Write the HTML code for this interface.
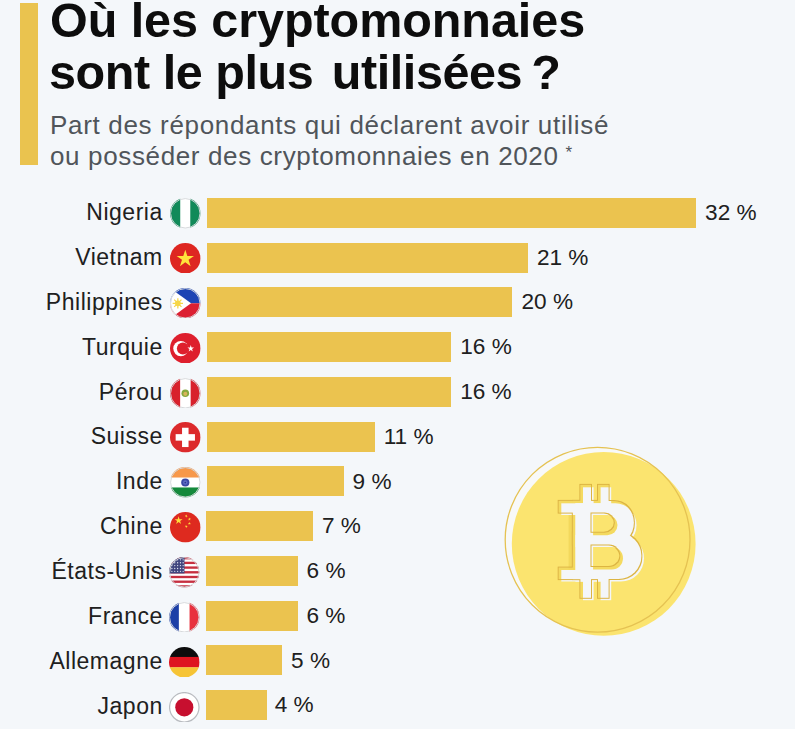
<!DOCTYPE html>
<html lang="fr">
<head>
<meta charset="utf-8">
<title>Où les cryptomonnaies sont le plus utilisées ?</title>
<style>
html,body{margin:0;padding:0;}
body{width:800px;height:729px;overflow:hidden;background:#ffffff;font-family:"Liberation Sans",sans-serif;}
#page{position:absolute;left:0;top:0;width:795px;height:729px;background:#f4f7fa;overflow:hidden;}
#accent{position:absolute;left:20.2px;top:3px;width:18.3px;height:162.4px;background:#eac34f;}
.t{position:absolute;white-space:nowrap;margin:0;}
#title{margin:0;font-weight:bold;font-size:48.5px;line-height:50px;color:#0d0d0d;}
#subtitle{margin:0;font-size:26px;line-height:30px;color:#50555a;}
.bar{position:absolute;left:207.1px;height:29.9px;background:#ebc34f;}
.lbl{position:absolute;left:0;width:162.8px;text-align:right;font-size:23px;line-height:30px;letter-spacing:0.52px;color:#202020;white-space:nowrap;}
.val{position:absolute;font-size:22.6px;line-height:30px;color:#202020;white-space:nowrap;}
.flag{position:absolute;display:block;}
#coin{position:absolute;display:block;}
</style>
</head>
<body>
<div id="page">
<div id="accent"></div>
<h1 id="title"><span class="t" id="h1a" style="left:50px;top:-4.81px;letter-spacing:-0.06px;">Où les cryptomonnaies</span>
<span class="t" id="h1b" style="left:49px;top:46.69px;letter-spacing:-0.43px;">sont le plus <span style="margin-left:5.5px">utilisées</span><span style="margin-left:-4px"> ?</span></span></h1>
<p id="subtitle"><span class="t" id="s1" style="left:50px;top:109.74px;letter-spacing:0.67px;">Part des répondants qui déclarent avoir utilisé</span>
<span class="t" id="s2" style="left:50px;top:140.99px;letter-spacing:0.64px;">ou posséder des cryptomonnaies en 2020<span id="ast" style="font-size:17px;letter-spacing:0;position:relative;top:-7px;margin-left:7px;">*</span></span></p>
<div class="lbl" id="l0" style="top:197.13px;">Nigeria</div><svg class="flag" style="top:198.0px;left:170.2px;width:30.6px;height:30.6px" viewBox="0 0 32 32"><clipPath id="fc0"><circle cx="16" cy="16" r="16"/></clipPath><g clip-path="url(#fc0)"><rect width="32" height="32" fill="#fff"/><rect width="10.7" height="32" fill="#118a59"/><rect x="21.2" width="10.8" height="32" fill="#118a59"/></g><circle cx="16" cy="16" r="15.4" fill="none" stroke="#d4d7da" stroke-width="1"/></svg><div class="bar" id="b0" style="top:197.85px;left:207.1px;width:489.0px;"></div><div class="val" id="v0" style="top:197.97px;left:705.1px;">32&nbsp;%</div>
<div class="lbl" id="l1" style="top:242.00px;">Vietnam</div><svg class="flag" style="top:242.9px;left:170.2px;width:30.6px;height:30.6px" viewBox="0 0 32 32"><clipPath id="fc1"><circle cx="16" cy="16" r="16"/></clipPath><g clip-path="url(#fc1)"><rect width="32" height="32" fill="#de2621"/><polygon points="16.00,7.00 18.13,13.56 25.04,13.56 19.45,17.62 21.58,24.19 16.00,20.13 10.42,24.19 12.55,17.62 6.96,13.56 13.87,13.56" fill="#ffe43c"/></g></svg><div class="bar" id="b1" style="top:242.61px;left:207.0px;width:320.9px;"></div><div class="val" id="v1" style="top:242.72px;left:536.9px;">21&nbsp;%</div>
<div class="lbl" id="l2" style="top:286.87px;">Philippines</div><svg class="flag" style="top:287.7px;left:170.2px;width:30.6px;height:30.6px" viewBox="0 0 32 32"><clipPath id="fc2"><circle cx="16" cy="16" r="16"/></clipPath><g clip-path="url(#fc2)"><rect width="32" height="16" fill="#1d44b4"/><rect y="16" width="32" height="16" fill="#dc2032"/><polygon points="0,0 22,16 0,32" fill="#fff"/><circle cx="8.2" cy="16" r="3" fill="#f6d649"/><g stroke="#f6d649" stroke-width="1.3"><line x1="2.8" y1="16" x2="13.6" y2="16"/><line x1="8.2" y1="10.6" x2="8.2" y2="21.4"/><line x1="4.4" y1="12.2" x2="12" y2="19.8"/><line x1="4.4" y1="19.8" x2="12" y2="12.2"/></g></g><circle cx="16" cy="16" r="15.4" fill="none" stroke="#d4d7da" stroke-width="1"/></svg><div class="bar" id="b2" style="top:287.36px;left:206.9px;width:305.6px;"></div><div class="val" id="v2" style="top:287.48px;left:521.5px;">20&nbsp;%</div>
<div class="lbl" id="l3" style="top:331.74px;">Turquie</div><svg class="flag" style="top:332.6px;left:170.2px;width:30.6px;height:30.6px" viewBox="0 0 32 32"><clipPath id="fc3"><circle cx="16" cy="16" r="16"/></clipPath><g clip-path="url(#fc3)"><rect width="32" height="32" fill="#de1f2d"/><circle cx="11.3" cy="16.3" r="7.9" fill="#fff"/><circle cx="13.5" cy="16.3" r="6.3" fill="#de1f2d"/><polygon points="25.22,15.16 23.04,16.74 23.87,19.29 21.70,17.71 19.53,19.29 20.36,16.74 18.18,15.16 20.87,15.16 21.70,12.60 22.53,15.16" fill="#fff"/></g></svg><div class="bar" id="b3" style="top:332.12px;left:206.8px;width:244.5px;"></div><div class="val" id="v3" style="top:332.23px;left:460.3px;">16&nbsp;%</div>
<div class="lbl" id="l4" style="top:376.61px;">Pérou</div><svg class="flag" style="top:377.5px;left:170.2px;width:30.6px;height:30.6px" viewBox="0 0 32 32"><clipPath id="fc4"><circle cx="16" cy="16" r="16"/></clipPath><g clip-path="url(#fc4)"><rect width="32" height="32" fill="#fff"/><rect width="10.6" height="32" fill="#d8212c"/><rect x="21.6" width="10.4" height="32" fill="#d8212c"/><circle cx="16" cy="16" r="4" fill="#86a83e"/><circle cx="16" cy="16.6" r="2.1" fill="#d8b45a"/></g><circle cx="16" cy="16" r="15.4" fill="none" stroke="#d4d7da" stroke-width="1"/></svg><div class="bar" id="b4" style="top:376.87px;left:206.7px;width:244.5px;"></div><div class="val" id="v4" style="top:376.99px;left:460.2px;">16&nbsp;%</div>
<div class="lbl" id="l5" style="top:421.48px;">Suisse</div><svg class="flag" style="top:422.3px;left:170.2px;width:30.6px;height:30.6px" viewBox="0 0 32 32"><clipPath id="fc5"><circle cx="16" cy="16" r="16"/></clipPath><g clip-path="url(#fc5)"><rect width="32" height="32" fill="#dc2a2c"/><rect x="12.6" y="6" width="6.8" height="20.2" fill="#fff"/><rect x="5.9" y="12.7" width="20.2" height="6.8" fill="#fff"/></g></svg><div class="bar" id="b5" style="top:421.63px;left:206.6px;width:168.1px;"></div><div class="val" id="v5" style="top:421.74px;left:383.7px;">11&nbsp;%</div>
<div class="lbl" id="l6" style="top:466.35px;">Inde</div><svg class="flag" style="top:467.2px;left:170.2px;width:30.6px;height:30.6px" viewBox="0 0 32 32"><clipPath id="fc6"><circle cx="16" cy="16" r="16"/></clipPath><g clip-path="url(#fc6)"><rect width="32" height="32" fill="#fff"/><rect width="32" height="11" fill="#f7984a"/><rect y="21.4" width="32" height="10.6" fill="#14893b"/><circle cx="16" cy="16.2" r="4.3" fill="#3b48a4"/><circle cx="16" cy="16.2" r="2.3" fill="#5f6cc4"/><circle cx="16" cy="16.2" r="0.9" fill="#2b388f"/></g><circle cx="16" cy="16" r="15.4" fill="none" stroke="#d4d7da" stroke-width="1"/></svg><div class="bar" id="b6" style="top:466.38px;left:206.5px;width:137.5px;"></div><div class="val" id="v6" style="top:466.50px;left:352.6px;">9&nbsp;%</div>
<div class="lbl" id="l7" style="top:511.22px;">Chine</div><svg class="flag" style="top:512.1px;left:170.2px;width:30.6px;height:30.6px" viewBox="0 0 32 32"><clipPath id="fc7"><circle cx="16" cy="16" r="16"/></clipPath><g clip-path="url(#fc7)"><rect width="32" height="32" fill="#de2a1f"/><polygon points="9.00,4.50 9.99,7.54 13.18,7.54 10.60,9.42 11.59,12.46 9.00,10.58 6.41,12.46 7.40,9.42 4.82,7.54 8.01,7.54" fill="#ffdc3c"/><polygon points="17.85,2.73 17.59,3.94 18.66,4.55 17.43,4.68 17.18,5.89 16.68,4.76 15.45,4.89 16.36,4.06 15.86,2.94 16.93,3.55" fill="#ffdc3c"/><polygon points="21.77,6.65 20.95,7.57 21.56,8.64 20.44,8.14 19.61,9.05 19.74,7.82 18.61,7.32 19.82,7.07 19.95,5.84 20.56,6.91" fill="#ffdc3c"/><polygon points="20.30,10.30 20.68,11.47 21.92,11.47 20.92,12.20 21.30,13.38 20.30,12.65 19.30,13.38 19.68,12.20 18.68,11.47 19.92,11.47" fill="#ffdc3c"/><polygon points="17.85,13.73 17.59,14.94 18.66,15.55 17.43,15.68 17.18,16.89 16.68,15.76 15.45,15.89 16.36,15.06 15.86,13.94 16.93,14.55" fill="#ffdc3c"/></g></svg><div class="bar" id="b7" style="top:511.14px;left:206.4px;width:107.0px;"></div><div class="val" id="v7" style="top:511.25px;left:322.0px;">7&nbsp;%</div>
<div class="lbl" id="l8" style="top:556.09px;">États-Unis</div><svg class="flag" style="top:557.0px;left:169.3px;width:30.6px;height:30.6px" viewBox="0 0 32 32"><clipPath id="fc8"><circle cx="16" cy="16" r="16"/></clipPath><g clip-path="url(#fc8)"><rect width="32" height="32" fill="#fff"/><rect y="0.00" width="32" height="2.46" fill="#c62f40"/><rect y="4.92" width="32" height="2.46" fill="#c62f40"/><rect y="9.85" width="32" height="2.46" fill="#c62f40"/><rect y="14.77" width="32" height="2.46" fill="#c62f40"/><rect y="19.69" width="32" height="2.46" fill="#c62f40"/><rect y="24.62" width="32" height="2.46" fill="#c62f40"/><rect y="29.54" width="32" height="2.46" fill="#c62f40"/><rect width="16.2" height="17.2" fill="#41467f"/><circle cx="3.0" cy="3.0" r="0.7" fill="#dfe2f0"/><circle cx="6.0" cy="3.0" r="0.7" fill="#dfe2f0"/><circle cx="9.0" cy="3.0" r="0.7" fill="#dfe2f0"/><circle cx="12.0" cy="3.0" r="0.7" fill="#dfe2f0"/><circle cx="14.8" cy="3.0" r="0.7" fill="#dfe2f0"/><circle cx="3.0" cy="6.0" r="0.7" fill="#dfe2f0"/><circle cx="6.0" cy="6.0" r="0.7" fill="#dfe2f0"/><circle cx="9.0" cy="6.0" r="0.7" fill="#dfe2f0"/><circle cx="12.0" cy="6.0" r="0.7" fill="#dfe2f0"/><circle cx="14.8" cy="6.0" r="0.7" fill="#dfe2f0"/><circle cx="3.0" cy="9.0" r="0.7" fill="#dfe2f0"/><circle cx="6.0" cy="9.0" r="0.7" fill="#dfe2f0"/><circle cx="9.0" cy="9.0" r="0.7" fill="#dfe2f0"/><circle cx="12.0" cy="9.0" r="0.7" fill="#dfe2f0"/><circle cx="14.8" cy="9.0" r="0.7" fill="#dfe2f0"/><circle cx="3.0" cy="12.0" r="0.7" fill="#dfe2f0"/><circle cx="6.0" cy="12.0" r="0.7" fill="#dfe2f0"/><circle cx="9.0" cy="12.0" r="0.7" fill="#dfe2f0"/><circle cx="12.0" cy="12.0" r="0.7" fill="#dfe2f0"/><circle cx="14.8" cy="12.0" r="0.7" fill="#dfe2f0"/><circle cx="3.0" cy="15.0" r="0.7" fill="#dfe2f0"/><circle cx="6.0" cy="15.0" r="0.7" fill="#dfe2f0"/><circle cx="9.0" cy="15.0" r="0.7" fill="#dfe2f0"/><circle cx="12.0" cy="15.0" r="0.7" fill="#dfe2f0"/><circle cx="14.8" cy="15.0" r="0.7" fill="#dfe2f0"/></g><circle cx="16" cy="16" r="15.4" fill="none" stroke="#d4d7da" stroke-width="1"/></svg><div class="bar" id="b8" style="top:555.89px;left:206.3px;width:91.7px;"></div><div class="val" id="v8" style="top:556.01px;left:306.6px;">6&nbsp;%</div>
<div class="lbl" id="l9" style="top:600.96px;">France</div><svg class="flag" style="top:601.8px;left:169.3px;width:30.6px;height:30.6px" viewBox="0 0 32 32"><clipPath id="fc9"><circle cx="16" cy="16" r="16"/></clipPath><g clip-path="url(#fc9)"><rect width="32" height="32" fill="#fff"/><rect width="10.3" height="32" fill="#1c3fa7"/><rect x="21.5" width="10.5" height="32" fill="#e8313e"/></g><circle cx="16" cy="16" r="15.4" fill="none" stroke="#d4d7da" stroke-width="1"/></svg><div class="bar" id="b9" style="top:600.64px;left:206.2px;width:91.7px;"></div><div class="val" id="v9" style="top:600.76px;left:306.5px;">6&nbsp;%</div>
<div class="lbl" id="l10" style="top:645.83px;">Allemagne</div><svg class="flag" style="top:646.7px;left:169.3px;width:30.6px;height:30.6px" viewBox="0 0 32 32"><clipPath id="fc10"><circle cx="16" cy="16" r="16"/></clipPath><g clip-path="url(#fc10)"><rect width="32" height="11" fill="#0c0c0c"/><rect y="10.4" width="32" height="11" fill="#de1420"/><rect y="21.2" width="32" height="10.8" fill="#f6c435"/></g></svg><div class="bar" id="b10" style="top:645.40px;left:206.1px;width:76.4px;"></div><div class="val" id="v10" style="top:645.52px;left:291.1px;">5&nbsp;%</div>
<div class="lbl" id="l11" style="top:690.70px;">Japon</div><svg class="flag" style="top:691.6px;left:169.3px;width:30.6px;height:30.6px" viewBox="0 0 32 32"><clipPath id="fc11"><circle cx="16" cy="16" r="16"/></clipPath><g clip-path="url(#fc11)"><rect width="32" height="32" fill="#fff"/><circle cx="16" cy="16" r="9.5" fill="#c70f2f"/></g><circle cx="16" cy="16" r="15.4" fill="none" stroke="#b9bcc1" stroke-width="1.3"/></svg><div class="bar" id="b11" style="top:690.15px;left:206.0px;width:61.1px;"></div><div class="val" id="v11" style="top:690.27px;left:274.7px;">4&nbsp;%</div>
<svg id="coin" style="left:495px;top:438px;width:212px;height:208px" viewBox="495 438 212 208"><defs><clipPath id="cpB"><rect x="575.5" y="480" width="100" height="130"/></clipPath><mask id="mB" maskUnits="userSpaceOnUse" x="540" y="470" width="130" height="140"><rect x="540" y="470" width="130" height="140" fill="#fff"/><rect x="570" y="515" width="47.5" height="20.2" rx="10.1" fill="#000"/><rect x="570" y="547" width="53" height="22.5" rx="11.2" fill="#000"/><rect x="540" y="470" width="53.1" height="140" fill="#fff"/></mask><filter id="fO" x="-10%" y="-10%" width="120%" height="120%"><feMorphology in="SourceAlpha" operator="dilate" radius="1" result="d"/><feComposite in="d" in2="SourceAlpha" operator="out" result="ring"/><feFlood flood-color="#dcb443" result="c"/><feComposite in="c" in2="ring" operator="in"/></filter></defs><circle cx="597.6" cy="539.7" r="92.4" fill="#f8f9f8"/><circle cx="603.7" cy="543.9" r="91.9" fill="#fbe46f"/><circle cx="597.6" cy="539.7" r="92.4" fill="none" stroke="#e5c252" stroke-width="1.3"/><g transform="translate(-2.6,-2.4)" fill="#f4da60"><g mask="url(#mB)"><rect x="583" y="487.3" width="10.6" height="18"/><rect x="600.6" y="487.3" width="10.6" height="18"/><rect x="583" y="579" width="10.6" height="21.2"/><rect x="600.6" y="579" width="10.6" height="21.2"/><rect x="561.3" y="503.3" width="40" height="11.7"/><rect x="561.3" y="570" width="40" height="11.5"/><rect x="575.5" y="503.3" width="17.6" height="78.2"/><g clip-path="url(#cpB)"><rect x="540" y="503.3" width="96.5" height="43.7" rx="21" ry="21.8"/><rect x="540" y="535" width="104" height="46.5" rx="23" ry="23.2"/></g></g></g><rect x="568.6" y="513" width="8" height="58" fill="#f3d85c"/><g fill="#f4f6f9"><g mask="url(#mB)"><rect x="583" y="487.3" width="10.6" height="18"/><rect x="600.6" y="487.3" width="10.6" height="18"/><rect x="583" y="579" width="10.6" height="21.2"/><rect x="600.6" y="579" width="10.6" height="21.2"/><rect x="561.3" y="503.3" width="40" height="11.7"/><rect x="561.3" y="570" width="40" height="11.5"/><rect x="575.5" y="503.3" width="17.6" height="78.2"/><g clip-path="url(#cpB)"><rect x="540" y="503.3" width="96.5" height="43.7" rx="21" ry="21.8"/><rect x="540" y="535" width="104" height="46.5" rx="23" ry="23.2"/></g></g></g><g transform="translate(-2.6,-2.4)"><g filter="url(#fO)"><g mask="url(#mB)" fill="#000"><rect x="583" y="487.3" width="10.6" height="18"/><rect x="600.6" y="487.3" width="10.6" height="18"/><rect x="583" y="579" width="10.6" height="21.2"/><rect x="600.6" y="579" width="10.6" height="21.2"/><rect x="561.3" y="503.3" width="40" height="11.7"/><rect x="561.3" y="570" width="40" height="11.5"/><rect x="575.5" y="503.3" width="17.6" height="78.2"/><g clip-path="url(#cpB)"><rect x="540" y="503.3" width="96.5" height="43.7" rx="21" ry="21.8"/><rect x="540" y="535" width="104" height="46.5" rx="23" ry="23.2"/></g></g></g></g></svg>
</div>
</body>
</html>
